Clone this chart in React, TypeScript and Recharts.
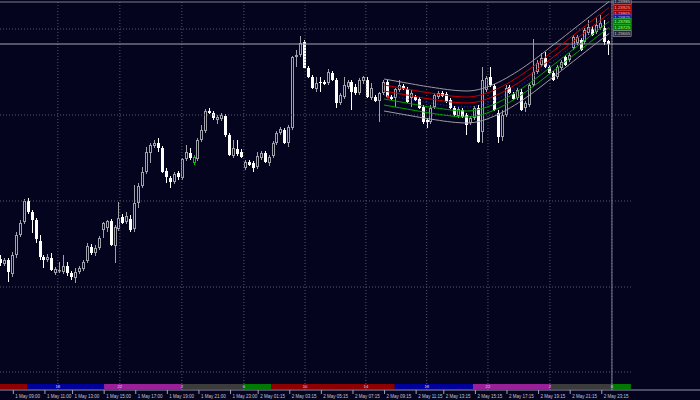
import React from 'react';
import { ComposedChart, Bar, Line, XAxis, YAxis, ReferenceLine, ReferenceArea, ReferenceDot } from 'recharts';

// ---------- data (M15 candles) ----------
const open = [
  1.2141,1.2136,1.2140,1.2126,1.2145,1.2165,1.2178,1.2199,1.2188,1.2180,
  1.2159,1.2143,1.2140,1.2142,1.2127,1.2129,1.2128,1.2134,1.2127,1.2122,
  1.2128,1.2131,1.2139,1.2153,1.2147,1.2152,1.2170,1.2172,1.2179,1.2154,
  1.2171,1.2183,1.2178,1.2181,1.2171,1.2197,1.2214,1.2228,1.2247,1.2254,
  1.2257,1.2252,1.2229,1.2222,1.2218,1.2227,1.2222,1.2241,1.2247,1.2237,
  1.2241,1.2260,1.2269,1.2289,1.2287,1.2280,1.2281,1.2284,1.2265,1.2244,
  1.2251,1.2248,1.2232,1.2238,1.2237,1.2233,1.2242,1.2247,1.2237,1.2244,
  1.2257,1.2267,1.2270,1.2257,1.2272,1.2343,1.2345,1.2358,1.2332,1.2323,
  1.2311,1.2318,1.2318,1.2317,1.2327,1.2320,1.2297,1.2303,1.2313,1.2318,
  1.2313,1.2307,1.2319,1.2320,1.2302,1.2303,1.2299,1.2307,1.2318,1.2303,
  1.2302,1.2310,1.2314,1.2311,1.2302,1.2303,1.2301,1.2293,1.2280,1.2278,
  1.2293,1.2303,1.2307,1.2306,1.2300,1.2292,1.2284,1.2290,1.2285,1.2277,
  1.2282,1.2292,1.2268,1.2310,1.2323,1.2314,1.2287,1.2263,1.2285,1.2313,
  1.2306,1.2302,1.2308,1.2292,1.2295,1.2315,1.2328,1.2335,1.2342,1.2333,
  1.2327,1.2323,1.2332,1.2343,1.2340,1.2352,1.2357,1.2360,1.2358,1.2367,
  1.2371,1.2368,1.2372,1.2372,1.2359,
];
const high = [
  1.2145,1.2142,1.2142,1.2148,1.2168,1.2180,1.2201,1.2202,1.2190,1.2182,
  1.2165,1.2145,1.2146,1.2147,1.2133,1.2138,1.2145,1.2138,1.2129,1.2132,
  1.2134,1.2140,1.2157,1.2156,1.2155,1.2164,1.2178,1.2180,1.2181,1.2175,
  1.2198,1.2186,1.2188,1.2185,1.2215,1.2217,1.2233,1.2253,1.2257,1.2260,
  1.2262,1.2254,1.2232,1.2224,1.2228,1.2229,1.2242,1.2255,1.2252,1.2245,
  1.2262,1.2275,1.2291,1.2292,1.2289,1.2285,1.2287,1.2286,1.2267,1.2260,
  1.2260,1.2251,1.2240,1.2240,1.2239,1.2248,1.2249,1.2249,1.2245,1.2259,
  1.2269,1.2273,1.2272,1.2275,1.2344,1.2350,1.2364,1.2360,1.2334,1.2325,
  1.2323,1.2323,1.2320,1.2331,1.2329,1.2322,1.2307,1.2323,1.2320,1.2320,
  1.2316,1.2322,1.2324,1.2323,1.2317,1.2305,1.2308,1.2320,1.2320,1.2305,
  1.2312,1.2320,1.2316,1.2313,1.2310,1.2305,1.2303,1.2295,1.2282,1.2295,
  1.2307,1.2309,1.2309,1.2308,1.2302,1.2294,1.2293,1.2292,1.2287,1.2284,
  1.2294,1.2295,1.2333,1.2324,1.2333,1.2316,1.2290,1.2290,1.2315,1.2315,
  1.2308,1.2312,1.2311,1.2299,1.2317,1.2361,1.2340,1.2347,1.2348,1.2335,
  1.2329,1.2335,1.2340,1.2345,1.2347,1.2365,1.2365,1.2362,1.2372,1.2380,
  1.2374,1.2382,1.2385,1.2380,1.2360,
];
const low = [
  1.2134,1.2134,1.2118,1.2123,1.2142,1.2163,1.2176,1.2186,1.2167,1.2157,
  1.2140,1.2132,1.2138,1.2129,1.2125,1.2127,1.2126,1.2124,1.2120,1.2117,
  1.2126,1.2129,1.2137,1.2145,1.2144,1.2150,1.2162,1.2168,1.2154,1.2137,
  1.2169,1.2176,1.2176,1.2168,1.2168,1.2192,1.2212,1.2226,1.2237,1.2252,
  1.2248,1.2227,1.2217,1.2212,1.2216,1.2220,1.2220,1.2239,1.2240,1.2235,
  1.2239,1.2258,1.2267,1.2286,1.2280,1.2276,1.2279,1.2263,1.2244,1.2242,
  1.2244,1.2242,1.2230,1.2234,1.2228,1.2231,1.2240,1.2237,1.2234,1.2242,
  1.2255,1.2265,1.2256,1.2253,1.2270,1.2333,1.2343,1.2332,1.2322,1.2311,
  1.2308,1.2308,1.2315,1.2315,1.2319,1.2292,1.2295,1.2301,1.2311,1.2290,
  1.2305,1.2305,1.2316,1.2302,1.2300,1.2298,1.2278,1.2305,1.2302,1.2300,
  1.2293,1.2308,1.2310,1.2297,1.2293,1.2299,1.2291,1.2276,1.2272,1.2276,
  1.2291,1.2301,1.2303,1.2297,1.2291,1.2284,1.2282,1.2282,1.2265,1.2275,
  1.2280,1.2257,1.2257,1.2308,1.2313,1.2289,1.2257,1.2259,1.2283,1.2306,
  1.2300,1.2300,1.2289,1.2288,1.2293,1.2313,1.2326,1.2333,1.2332,1.2326,
  1.2319,1.2321,1.2330,1.2334,1.2338,1.2350,1.2355,1.2349,1.2356,1.2365,
  1.2364,1.2366,1.2370,1.2355,1.2345,
];
const close = [
  1.2137,1.2140,1.2128,1.2145,1.2165,1.2177,1.2199,1.2188,1.2180,1.2161,
  1.2143,1.2140,1.2143,1.2130,1.2131,1.2130,1.2134,1.2127,1.2123,1.2128,
  1.2132,1.2138,1.2154,1.2147,1.2152,1.2162,1.2177,1.2179,1.2155,1.2173,
  1.2182,1.2177,1.2184,1.2170,1.2197,1.2214,1.2228,1.2248,1.2255,1.2257,
  1.2252,1.2228,1.2223,1.2218,1.2226,1.2223,1.2241,1.2248,1.2242,1.2243,
  1.2260,1.2270,1.2289,1.2287,1.2282,1.2283,1.2285,1.2265,1.2245,1.2252,
  1.2246,1.2243,1.2238,1.2235,1.2232,1.2244,1.2247,1.2238,1.2243,1.2257,
  1.2267,1.2271,1.2257,1.2273,1.2343,1.2345,1.2357,1.2332,1.2323,1.2312,
  1.2317,1.2317,1.2316,1.2328,1.2320,1.2297,1.2305,1.2315,1.2318,1.2308,
  1.2307,1.2320,1.2323,1.2303,1.2312,1.2299,1.2307,1.2318,1.2303,1.2301,
  1.2311,1.2315,1.2311,1.2298,1.2307,1.2300,1.2292,1.2278,1.2278,1.2292,
  1.2305,1.2307,1.2304,1.2298,1.2292,1.2285,1.2291,1.2283,1.2275,1.2282,
  1.2292,1.2258,1.2320,1.2322,1.2315,1.2290,1.2263,1.2285,1.2312,1.2307,
  1.2301,1.2310,1.2290,1.2297,1.2315,1.2328,1.2337,1.2342,1.2333,1.2327,
  1.2320,1.2333,1.2338,1.2335,1.2345,1.2363,1.2363,1.2350,1.2370,1.2373,
  1.2365,1.2375,1.2377,1.2358,1.2356,
];
const greenBars = [49];

// regression channel (centre line) from bar 97 to the last bar
const channelStart = 97;
const channelMid = [
  1.23050,1.23043,1.23036,1.23029,1.23022,1.23015,1.23008,1.23001,1.22994,1.22987,
  1.22980,1.22974,1.22968,1.22962,1.22956,1.22950,1.22945,1.22940,1.22936,1.22933,
  1.22931,1.22930,1.22932,1.22937,1.22945,1.22956,1.22969,1.22984,1.23000,1.23018,
  1.23038,1.23060,1.23083,1.23107,1.23132,1.23158,1.23185,1.23213,1.23242,1.23272,
  1.23302,1.23333,1.23365,1.23395,1.23425,1.23456,1.23487,1.23518,1.23549,1.23580,
  1.23611,1.23642,1.23673,1.23704,1.23735,1.23765,1.23795,1.23825,
];
const bands = [
  { key: 'u3', off: 0.0016, color: '#9c9ca4', dash: undefined },
  { key: 'u2', off: 0.0010, color: '#c40000', dash: undefined },
  { key: 'u1', off: 0.0004, color: '#d00000', dash: undefined },
  { key: 'mid', off: 0, color: '#2a2ad8', dash: '1 2' },
  { key: 'd1', off: -0.0004, color: '#00a000', dash: undefined },
  { key: 'd2', off: -0.0010, color: '#00a800', dash: undefined },
  { key: 'd3', off: -0.0016, color: '#9c9ca4', dash: undefined },
];
const labelBox: Record<string, { fill: string; stroke: string; text: string }> = {
  u3: { fill: '#26263a', stroke: '#a8a8b0', text: '#c8c8d0' },
  u2: { fill: '#a00000', stroke: '#e04040', text: '#ffb0b0' },
  u1: { fill: '#a00000', stroke: '#e04040', text: '#ffb0b0' },
  mid: { fill: '#1818a0', stroke: '#4848e0', text: '#c0c0ff' },
  d1: { fill: '#007a00', stroke: '#20c020', text: '#b0ffb0' },
  d2: { fill: '#007a00', stroke: '#20c020', text: '#b0ffb0' },
  d3: { fill: '#26263a', stroke: '#a8a8b0', text: '#c8c8d0' },
};

const signalDot = { bar: 98, price: 1.2303 };

// time axis
const tickBars = [3, 11, 18, 26, 34, 42, 50, 58, 65, 73, 81, 89, 97, 105, 112, 120, 128, 136, 144, 152];
const tickLabels = [
  '1 May 09:00', '1 May 11:00', '1 May 13:00', '1 May 15:00', '1 May 17:00', '1 May 19:00', '1 May 21:00', '1 May 23:00',
  '2 May 01:15', '2 May 03:15', '2 May 05:15', '2 May 07:15', '2 May 09:15', '2 May 11:15', '2 May 13:15', '2 May 15:15',
  '2 May 17:15', '2 May 19:15', '2 May 21:15', '2 May 23:15',
];
const gridBars = [14.4, 30.1, 45.8, 61.5, 77, 92.4, 107.8, 123.3, 139, 154.7];
const gridHours = ['18', '22', '2', '6', '10', '14', '18', '22', '2', '6'];
const gridPrices = [1.2371, 1.2285, 1.2199, 1.2113, 1.2028];

// session bar
const sessionStart = [-0.25, 6.6, 26.1, 45.8, 61.5, 68.4, 99.7, 119.5, 139.2, 154.7];
const sessionEnd = [6.6, 26.1, 45.8, 61.5, 68.4, 99.7, 119.5, 139.2, 154.7, 159.5];
const sessionColor = ['#8e0000', '#00009a', '#9a209a', '#3c3c3c', '#007a00', '#8e0000', '#00009a', '#9a209a', '#3c3c3c', '#007a00'];

const BG = '#04041e';
const X_DOMAIN: [number, number] = [-0.25, 177];
const Y_DOMAIN: [number, number] = [1.201, 1.24];
const lastClose = close[close.length - 1];
const topLine = 1.2398;
const separatorBar = 154.7;

const rows = open.map((o, i) => {
  const r: any = { i, open: o, high: high[i], low: low[i], close: close[i], range: [low[i], high[i]] };
  const k = i - channelStart;
  if (k >= 0 && k < channelMid.length) {
    bands.forEach((b) => { r[b.key] = channelMid[k] + b.off; });
  }
  return r;
});

const Candle = (props: any) => {
  const { x, y, width, height, payload, index } = props;
  if (x == null || y == null) return null;
  const top = Math.min(y, y + height);
  const h = Math.abs(height);
  const span = payload.high - payload.low || 1e-9;
  const py = (p: number) => top + ((payload.high - p) / span) * h;
  const bx = Math.round(x + width / 2 - 1.5);
  const wx = bx + 1.5;
  const bull = payload.close >= payload.open;
  const green = greenBars.includes(index);
  const col = green ? '#00c800' : bull ? '#a0a0a8' : '#ffffff';
  const bTop = py(Math.max(payload.open, payload.close));
  const bBot = py(Math.min(payload.open, payload.close));
  const bh = Math.max(1, bBot - bTop);
  return (
    <g>
      <line x1={wx} x2={wx} y1={top} y2={top + h} stroke={col} strokeWidth={1} />
      {bull ? (
        <rect x={bx + 0.5} y={bTop + 0.5} width={2} height={Math.max(0.5, bh - 1)} fill={BG} stroke={col} strokeWidth={1} />
      ) : (
        <rect x={bx} y={bTop} width={3} height={bh} fill={col} />
      )}
    </g>
  );
};

const TimeTick = (props: any) => {
  const { x, y, payload } = props;
  const idx = tickBars.indexOf(payload.value);
  return (
    <g>
      <line x1={x + 0.5} x2={x + 0.5} y1={y} y2={y + 4} stroke="#a0a0b8" strokeWidth={1} />
      <text x={x + 2.5} y={y + 7.6} fontSize={4.5} fill="#c4c4d4" fontFamily="Liberation Sans, Arial, sans-serif" textAnchor="start">
        {tickLabels[idx]}
      </text>
    </g>
  );
};

export default function App() {
  const lastK = channelMid.length - 1;
  const lastBar = channelStart + lastK;
  return (
    <div style={{ position: 'fixed', left: 0, top: 0, width: 700, height: 400, background: BG, overflow: 'hidden' }}>
      <ComposedChart width={700} height={400} data={rows} margin={{ top: 0, right: 0, bottom: 0, left: 0 }}>
        <XAxis
          dataKey="i"
          type="number"
          domain={X_DOMAIN}
          allowDataOverflow
          ticks={tickBars}
          interval={0}
          tick={<TimeTick />}
          tickLine={false}
          tickSize={0}
          tickMargin={0}
          axisLine={{ stroke: '#9494b4' }}
          height={10}
        />
        <YAxis hide domain={Y_DOMAIN} allowDataOverflow />

        {gridPrices.map((p) => (
          <ReferenceLine key={'hp' + p} segment={[{ x: -0.25, y: p }, { x: 159.5, y: p }]} stroke="#585868" strokeDasharray="1 2" ifOverflow="visible" />
        ))}
        {gridBars.map((g) => (
          <ReferenceLine key={'vg' + g} x={g} stroke="#585868" strokeDasharray="1 2" ifOverflow="visible" />
        ))}
        <ReferenceLine x={separatorBar} stroke="#7e7e8e" ifOverflow="visible" />
        <ReferenceLine y={topLine} stroke="#7e7e8e" ifOverflow="visible" />
        <ReferenceLine y={lastClose} stroke="#a4a4b4" ifOverflow="visible" />

        <Bar dataKey="range" barSize={3} shape={<Candle />} isAnimationActive={false} />

        {bands.map((b) => (
          <Line
            key={b.key}
            dataKey={b.key}
            stroke={b.color}
            strokeWidth={1}
            strokeDasharray={b.dash}
            dot={false}
            activeDot={false}
            isAnimationActive={false}
            connectNulls={false}
          />
        ))}

        <ReferenceDot x={signalDot.bar} y={signalDot.price} r={1.6} fill="#ff1010" stroke="none" ifOverflow="visible" />

        {sessionStart.map((s, k) => (
          <ReferenceArea key={'ss' + k} x1={s} x2={sessionEnd[k]} y1={1.2011} y2={1.2016} fill={sessionColor[k]} fillOpacity={1} stroke="none" ifOverflow="visible" />
        ))}
        {gridBars.map((g, k) => (
          <ReferenceDot
            key={'gh' + k}
            x={g}
            y={1.20135}
            ifOverflow="visible"
            shape={(p: any) => (
              <text x={p.cx} y={p.cy + 1.6} fontSize={4.2} fill="#e0d0ff" textAnchor="middle" fontFamily="Liberation Sans, Arial, sans-serif">
                {gridHours[k]}
              </text>
            )}
          />
        ))}

        {bands.map((b) => {
          const v = channelMid[lastK] + b.off;
          const st = labelBox[b.key];
          return (
            <ReferenceDot
              key={'lb' + b.key}
              x={lastBar}
              y={v}
              ifOverflow="visible"
              shape={(p: any) => (
                <g>
                  <rect x={p.cx + 4} y={p.cy - 2.8} width={18} height={5.6} fill={st.fill} stroke={st.stroke} strokeWidth={0.6} />
                  <text x={p.cx + 13} y={p.cy + 1.7} fontSize={4.4} fill={st.text} textAnchor="middle" fontFamily="Liberation Sans, Arial, sans-serif">
                    {v.toFixed(5)}
                  </text>
                </g>
              )}
            />
          );
        })}
      </ComposedChart>
    </div>
  );
}
